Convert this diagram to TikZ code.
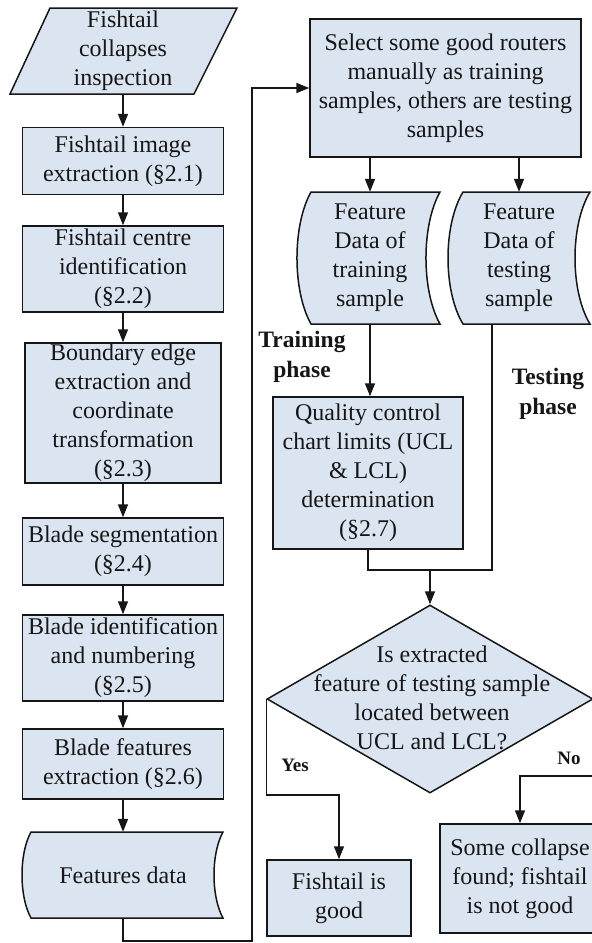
\documentclass[tikz,border=0pt]{standalone}
\usepackage{fontspec}
\setmainfont{Liberation Serif}
\usetikzlibrary{arrows.meta,shapes.geometric}
\definecolor{boxfill}{RGB}{219,229,242}
\definecolor{ink}{RGB}{22,22,22}
\begin{document}
\begin{tikzpicture}[x=1pt,y=-1pt,
  box/.style={draw=ink, fill=boxfill, line width=1.5pt, align=center, inner sep=0pt, text=ink, font=\fontsize{24}{29}\selectfont},
  shp/.style={draw=ink, fill=boxfill, line width=1.5pt},
  txt/.style={align=center, inner sep=0pt, text=ink, font=\fontsize{24}{29}\selectfont},
  lbl/.style={align=center, inner sep=0pt, text=ink, font=\bfseries\fontsize{23.5}{30}\selectfont},
  yn/.style={align=center, inner sep=0pt, text=ink, font=\bfseries\fontsize{19}{22}\selectfont},
  arr/.style={draw=ink, line width=1.5pt, -{Triangle[length=13pt,width=10pt]}},
  ln/.style={draw=ink, line width=1.5pt}]
\fill[white] (0,0) rectangle (592,943);
\useasboundingbox (0,0) rectangle (592,943);
% ---------------- left column
\draw[shp] (50,8) -- (237,8) -- (194,94) -- (10,94) -- cycle;
\node[txt, minimum height=86pt] (inp) at (123,51) {Fishtail\\collapses\\inspection};
\node[box, minimum width=201pt, minimum height=67pt] (b1) at (123,161) {Fishtail image\\extraction (§2.1)};
\node[box, minimum width=201pt, minimum height=86pt] (b2) at (123,269) {Fishtail centre\\identification\\(§2.2)};
\node[box, minimum width=196pt, minimum height=140pt] (b3) at (123,413) {Boundary edge\\extraction and\\coordinate\\transformation\\(§2.3)};
\node[box, minimum width=201pt, minimum height=67pt] (b4) at (123,551.5) {Blade segmentation\\(§2.4)};
\node[box, minimum width=201pt, minimum height=86pt] (b5) at (123,658) {Blade identification\\and numbering\\(§2.5)};
\node[box, minimum width=201pt, minimum height=70pt] (b6) at (123,764) {Blade features\\extraction (§2.6)};
\draw[shp] (31,832) -- (223,832) .. controls (211,853.5) and (211,896.5) .. (223,918) -- (31,918) .. controls (19,896.5) and (19,853.5) .. (31,832) -- cycle;
\node[txt, minimum height=86pt] (fd) at (123,875) {Features data};
\draw[arr] (inp.south) -- (b1.north);
\draw[arr] (b1.south) -- (b2.north);
\draw[arr] (b2.south) -- (b3.north);
\draw[arr] (b3.south) -- (b4.north);
\draw[arr] (b4.south) -- (b5.north);
\draw[arr] (b5.south) -- (b6.north);
\draw[arr] (b6.south) -- (fd.north);
% ---------------- right part
\node[box, minimum width=271pt, minimum height=138pt] (sel) at (445.5,88) {Select some good routers\\manually as training\\samples, others are testing\\samples};
\coordinate (lp) at (252,941);
\draw[arr] (fd.south) |- (lp) |- (sel.west);
\draw[shp] (311,192) -- (440,192) .. controls (421.3,225) and (421.3,291) .. (440,324) -- (311,324) .. controls (292.3,291) and (292.3,225) .. (311,192) -- cycle;
\node[txt, minimum height=132pt] (trd) at (370,258) {Feature\\Data of\\training\\sample};
\draw[shp] (463,192) -- (590,192) .. controls (570,225) and (570,291) .. (590,324) -- (463,324) .. controls (443,291) and (443,225) .. (463,192) -- cycle;
\node[txt, minimum height=132pt] (ted) at (519,258) {Feature\\Data of\\testing\\sample};
\draw[arr] (sel.south -| trd) -- (trd.north);
\draw[arr] (sel.south -| ted) -- (ted.north);
\node[lbl] (trl) at (302,357) {Training\\phase};
\node[lbl] (tel) at (548,394) {Testing\\phase};
\node[box, minimum width=190pt, minimum height=152pt] (q) at (368,473) {Quality control\\chart limits (UCL\\\& LCL)\\determination\\(§2.7)};
\draw[arr] (trd.south) -- (trd.south |- q.north);
\node[diamond, draw=ink, fill=boxfill, line width=1.5pt, minimum width=326pt, minimum height=188pt, inner sep=0pt] (dia) at (430,699) {};
\node[txt] (dq) at (432,698) {Is extracted\\feature of testing sample\\located between\\UCL and LCL?};
\coordinate (tout) at (492,324);
\coordinate (join) at (430,570);
\draw[ln] (q.south) |- (join);
\draw[ln] (tout) |- (join);
\draw[arr] (join) -- (dia.north);
\node[box, minimum width=144pt, minimum height=76pt] (good) at (339,898) {Fishtail is\\good};
\node[box, minimum width=160pt, minimum height=109pt] (bad) at (520,878.5) {Some collapse\\found; fishtail\\is not good};
\draw[arr] (dia.west) -- ++(0,96) -| (good.north);
\draw[arr] (dia.east) -- ++(0,77) -| (bad.north);
\node[yn] (yes) at (295,765) {Yes};
\node[yn] (no) at (569,758) {No};
\end{tikzpicture}
\end{document}
